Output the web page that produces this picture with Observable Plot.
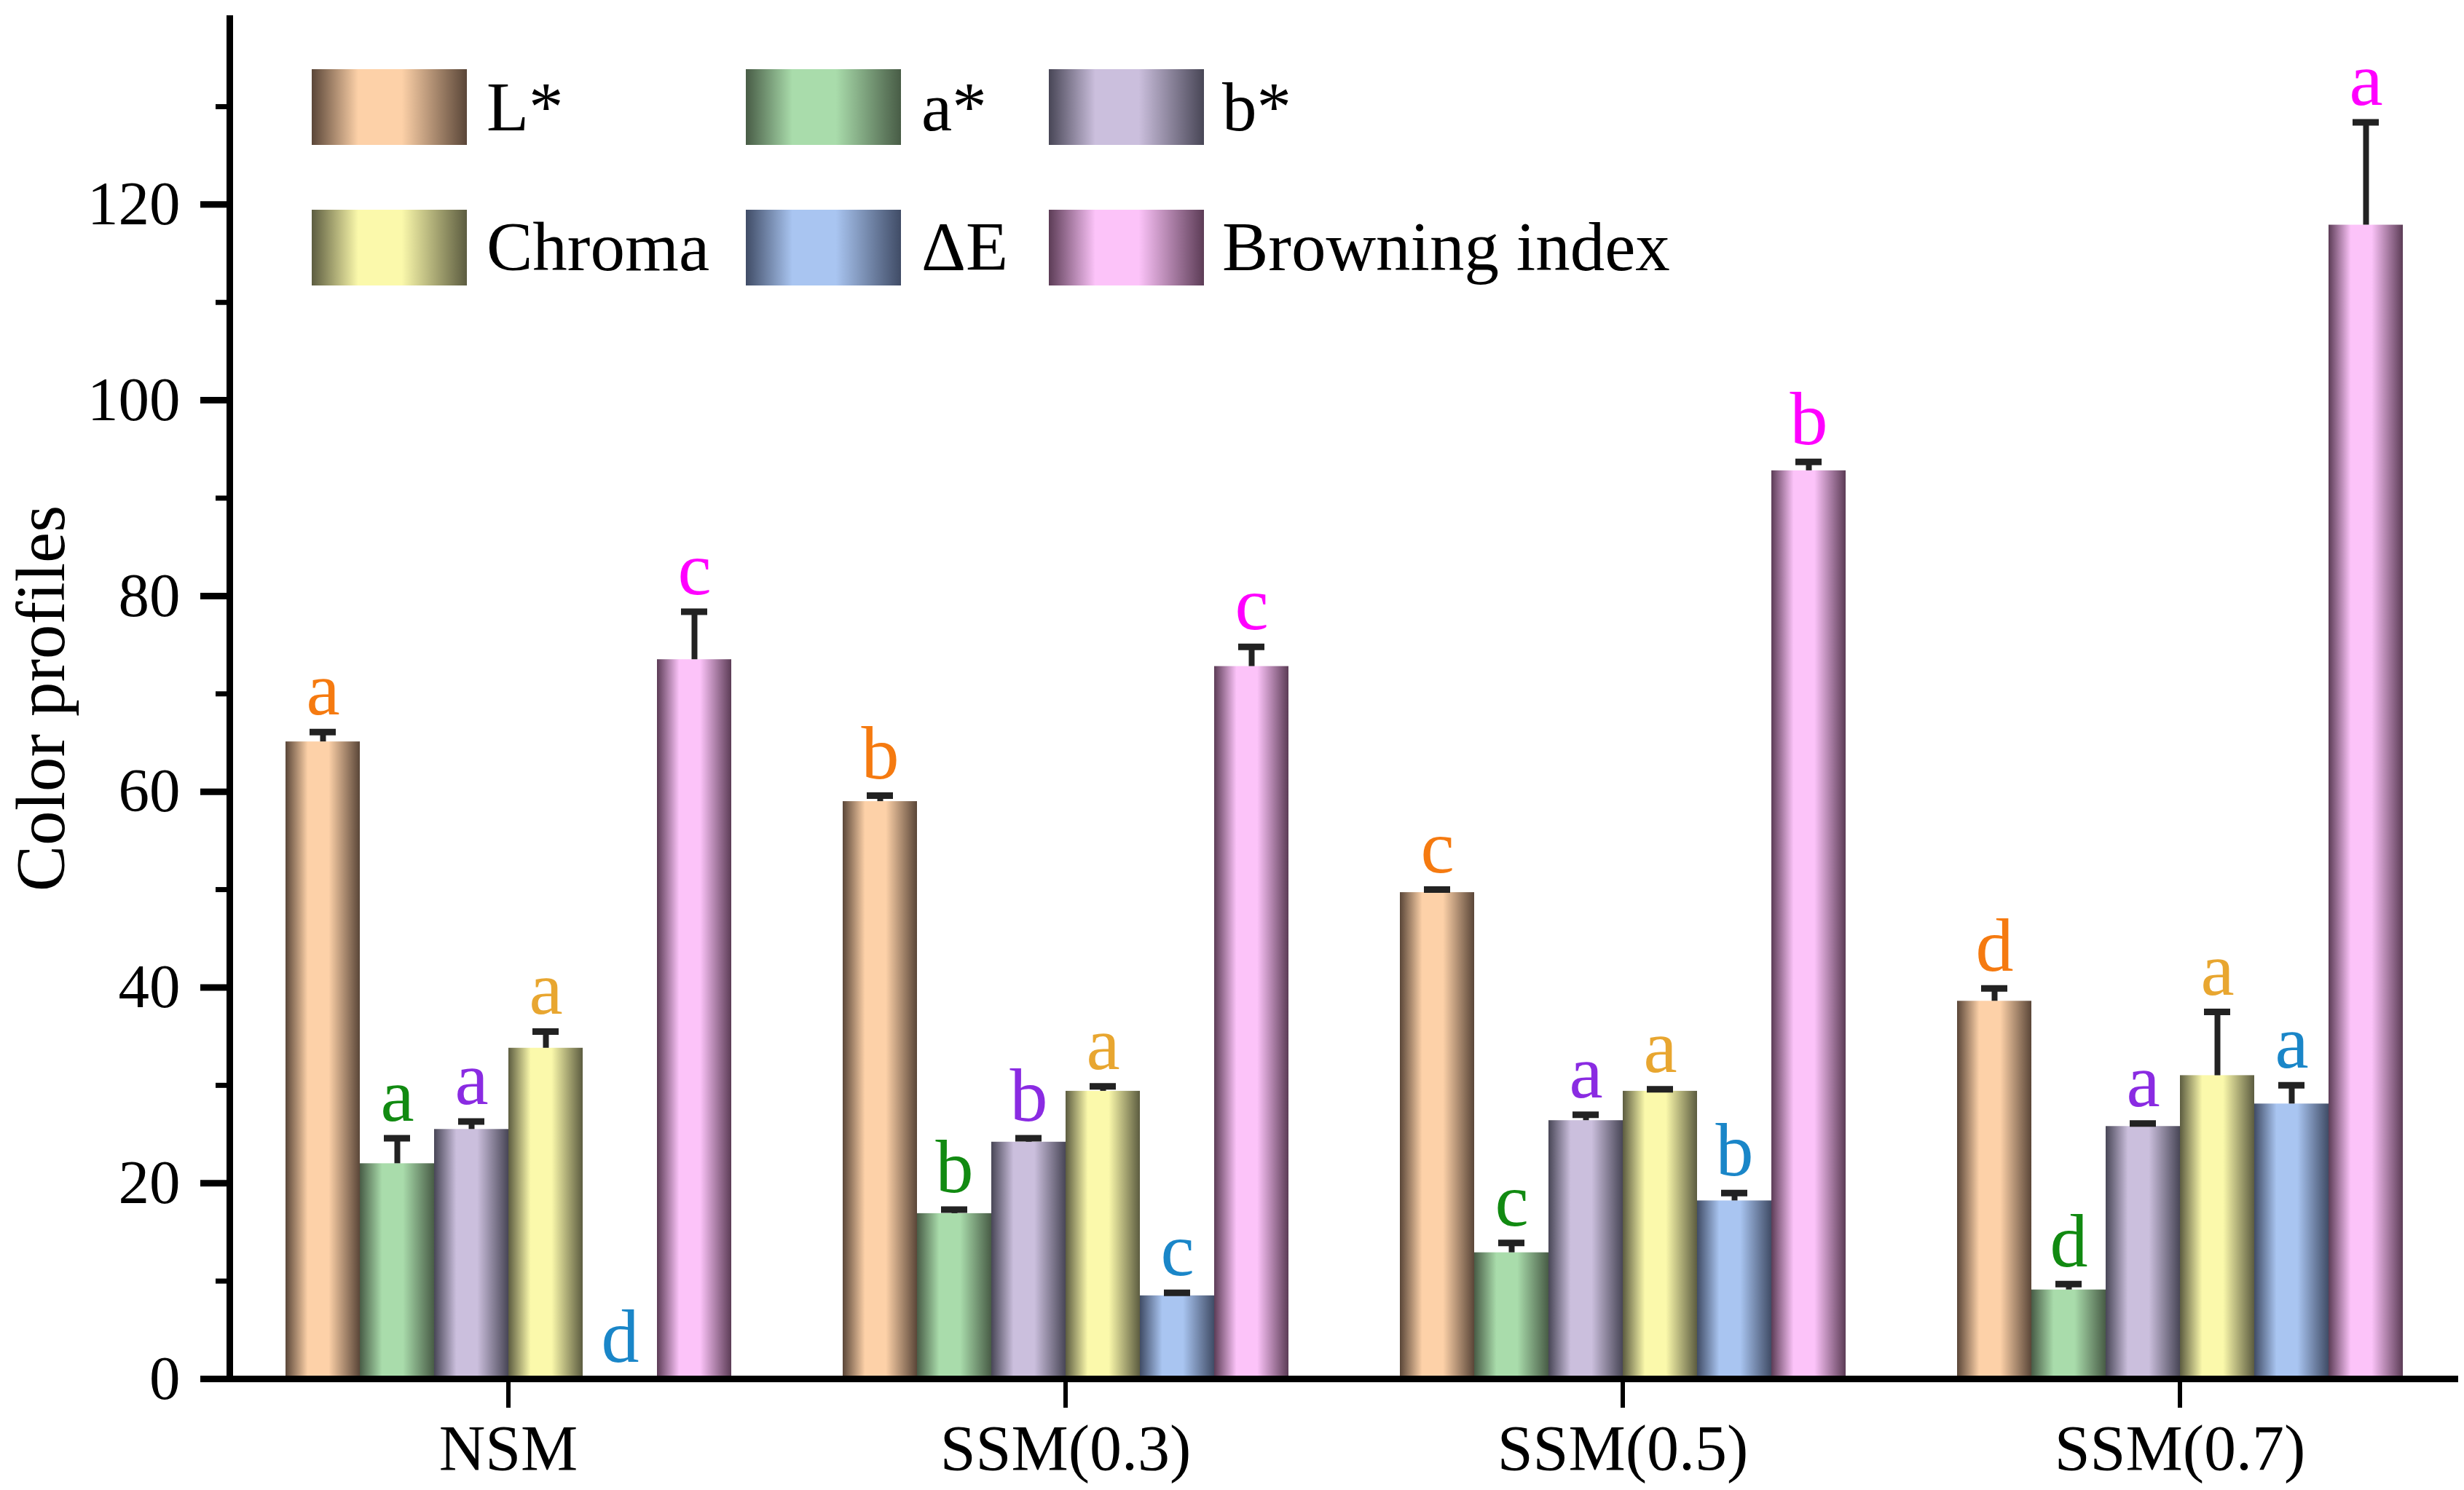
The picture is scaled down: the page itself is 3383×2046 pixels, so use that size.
<!DOCTYPE html>
<html><head><meta charset="utf-8">
<script src="https://cdn.jsdelivr.net/npm/d3@7"></script>
<script src="https://cdn.jsdelivr.net/npm/@observablehq/plot@0.6"></script>
<style>
html,body{margin:0;padding:0;background:#fff;}
#wrap{position:relative;width:3383px;height:2046px;overflow:hidden;}
#overlay{position:absolute;left:0;top:0;pointer-events:none;}
</style></head><body><div id="wrap"></div>
<script>
// ---- data ----
const groups = ["NSM", "SSM(0.3)", "SSM(0.5)", "SSM(0.7)"];
const seriesNames = ["L*", "a*", "b*", "Chroma", "ΔE", "Browning index"];

const Lstar      = [65.1, 59.0, 49.7, 38.6];
const LstarErr   = [1.0, 0.6, 0.3, 1.3];
const astar      = [22.0, 16.9, 12.9, 9.1];
const astarErr   = [2.6, 0.4, 1.0, 0.6];
const bstar      = [25.5, 24.2, 26.4, 25.8];
const bstarErr   = [0.8, 0.4, 0.6, 0.3];
const chroma     = [33.8, 29.4, 29.4, 31.0];
const chromaErr  = [1.7, 0.5, 0.2, 6.5];
const deltaE     = [0, 8.5, 18.2, 28.1];
const deltaEErr  = [0, 0.3, 0.8, 1.9];
const browning   = [73.5, 72.8, 92.8, 117.9];
const browningErr= [4.9, 2.0, 0.9, 10.5];

const LstarLetters    = ["a", "b", "c", "d"];
const astarLetters    = ["a", "b", "c", "d"];
const bstarLetters    = ["a", "b", "a", "a"];
const chromaLetters   = ["a", "a", "a", "a"];
const deltaELetters   = ["d", "c", "b", "a"];
const browningLetters = ["c", "c", "b", "a"];

const yMajorTicks = [0, 20, 40, 60, 80, 100, 120];
const yMinorTicks = [10, 30, 50, 70, 90, 110, 130];

// styles
const letterColors = ["#f57a10", "#118a11", "#8a2be2", "#e8a630", "#1a86c8", "#ff00ff"];
const gradColors = [
  ["#5a4638", "#fdd1a8"],
  ["#485c46", "#a9dcab"],
  ["#484656", "#cbbfdd"],
  ["#5c5c40", "#fbf9ab"],
  ["#404c66", "#a9c5f1"],
  ["#5c3c56", "#fcc3f9"]
];

// ---- long table ----
const valueLists = [Lstar, astar, bstar, chroma, deltaE, browning];
const errLists = [LstarErr, astarErr, bstarErr, chromaErr, deltaEErr, browningErr];
const letterLists = [LstarLetters, astarLetters, bstarLetters, chromaLetters, deltaELetters, browningLetters];
const rows = [];
seriesNames.forEach((s, i) => groups.forEach((g, j) => rows.push({
  group: g, series: s, value: valueLists[i][j], err: errLists[i][j], letter: letterLists[i][j]
})));
const errRows = rows.filter(r => r.err > 0);

const font = '"Liberation Serif","Times New Roman",serif';

const chart = Plot.plot({
  width: 3383,
  height: 2046,
  marginTop: 25,
  marginBottom: 153,
  marginLeft: 313,
  marginRight: 7,
  style: {fontFamily: font, color: "#000", background: "#fff", overflow: "visible"},
  fx: {domain: groups, paddingInner: 0, paddingOuter: 0},
  x: {domain: seriesNames, paddingInner: 0, paddingOuter: 0.75, axis: null},
  y: {domain: [0, 139]},
  marks: [
    ...seriesNames.map((s, i) => Plot.barY(rows.filter(r => r.series === s), {
      fx: "group", x: "series", y: "value", fill: `url(#bar-grad-${i})`
    })),
    Plot.ruleX(errRows, {fx: "group", x: "series", y1: "value", y2: d => d.value + d.err, stroke: "#222", strokeWidth: 8}),
    Plot.tickY(errRows, {fx: "group", x: "series", y: d => d.value + d.err, stroke: "#222", strokeWidth: 9, insetLeft: 33, insetRight: 33}),
    ...seriesNames.map((s, i) => Plot.text(rows.filter(r => r.series === s), {
      fx: "group", x: "series", y: d => d.value + d.err, text: "letter",
      fill: letterColors[i], fontSize: 104, lineAnchor: "bottom", dy: -24
    })),
    Plot.ruleY([0], {stroke: "#000", strokeWidth: 9}),
    Plot.frame({anchor: "left", facetAnchor: "left", stroke: "#000", strokeWidth: 9}),
    Plot.axisY({ticks: yMajorTicks, tickSize: 40, tickPadding: 28, fontSize: 85, strokeWidth: 9, label: null}),
    Plot.axisY({ticks: yMinorTicks, tickSize: 19, tickFormat: () => "", strokeWidth: 7, label: null}),
    Plot.axisFx({anchor: "bottom", tickSize: 40, tickPadding: 22, fontSize: 88, strokeWidth: 6, label: null})
  ]
});

function addGradients(sel, prefix) {
  const defs = sel.insert("defs", ":first-child");
  gradColors.forEach(([dark, light], i) => {
    const g = defs.append("linearGradient").attr("id", `${prefix}-${i}`)
      .attr("x1", 0).attr("x2", 1).attr("y1", 0).attr("y2", 0);
    [[0, dark], [0.3, light], [0.58, light], [1, dark]].forEach(([o, c]) =>
      g.append("stop").attr("offset", o).attr("stop-color", c));
  });
}
addGradients(d3.select(chart), "bar-grad");
document.getElementById("wrap").appendChild(chart);

// ---- overlay: legend + y title ----
const ov = d3.select("#wrap").append("svg").attr("id", "overlay")
  .attr("width", 3383).attr("height", 2046)
  .style("font-family", font);
addGradients(ov, "leg-grad");
const legX = [428, 1024, 1440];
const legTextX = [668, 1265, 1678];
const legY = [95, 288];
const legBase = [179, 371];
seriesNames.forEach((s, i) => {
  const col = i % 3, row = Math.floor(i / 3);
  ov.append("rect").attr("x", legX[col]).attr("y", legY[row]).attr("width", 213).attr("height", 104)
    .attr("fill", `url(#leg-grad-${i})`);
  ov.append("text").attr("x", legTextX[col]).attr("y", legBase[row])
    .attr("font-size", 95).attr("fill", "#000").text(s);
});
ov.append("text").attr("transform", "translate(88,959) rotate(-90)")
  .attr("text-anchor", "middle").attr("font-size", 95).attr("fill", "#000").text("Color profiles");
</script></body></html>
